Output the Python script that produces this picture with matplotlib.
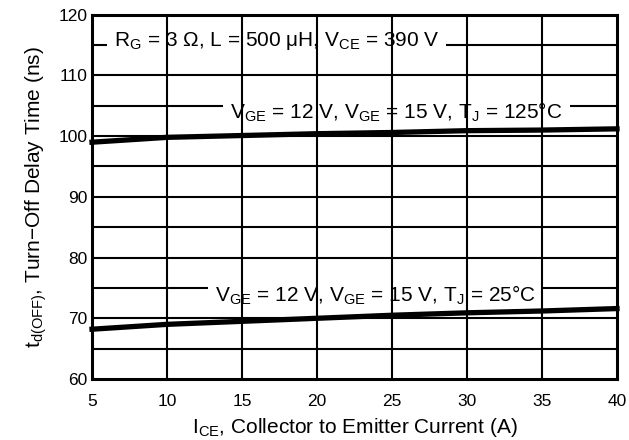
import matplotlib
matplotlib.use('Agg')
import matplotlib.pyplot as plt

plt.rcParams['font.family'] = ['Liberation Sans', 'DejaVu Sans']
plt.rcParams['mathtext.fontset'] = 'custom'
plt.rcParams['mathtext.rm'] = 'Liberation Sans'

# collector current (A)
ice = [5, 10, 15, 20, 25, 30, 35, 40]
# turn-off delay time (ns)
td_125 = [99.0, 99.8, 100.1, 100.4, 100.6, 100.9, 101.0, 101.2]
td_25 = [68.2, 69.0, 69.5, 70.0, 70.5, 70.9, 71.2, 71.6]

xticks = [5, 10, 15, 20, 25, 30, 35, 40]
yticks = [60, 70, 80, 90, 100, 110, 120]
ygrid = [65, 70, 75, 80, 85, 90, 95, 100, 105, 110, 115]
xgrid = [10, 15, 20, 25, 30, 35]

fig = plt.figure(figsize=(6.29, 4.40), dpi=100)
ax = fig.add_axes([92/629, 61/440, 525/629, 364.3/440])

for y in ygrid:
  ax.axhline(y, color='black', linewidth=1.5, zorder=1)
for x in xgrid:
  ax.axvline(x, color='black', linewidth=1.5, zorder=3)

box = dict(facecolor='white', edgecolor='none', pad=5)
fs = 15
ax.text(17.3, 114.9, r'R$_\mathregular{G}$ = 3 Ω, L = 500 μH, V$_\mathregular{CE}$ = 390 V',
        ha='center', va='baseline', fontsize=fs, bbox=box, zorder=2)
ax.text(25.3, 102.95, r'V$_\mathregular{GE}$ = 12 V, V$_\mathregular{GE}$ = 15 V, T$_\mathregular{J}$ = 125°C',
        ha='center', va='baseline', fontsize=fs, bbox=box, zorder=2)
ax.text(23.9, 72.8, r'V$_\mathregular{GE}$ = 12 V, V$_\mathregular{GE}$ = 15 V, T$_\mathregular{J}$ = 25°C',
        ha='center', va='baseline', fontsize=fs, bbox=box, zorder=2)

ax.plot(ice, td_125, color='black', linewidth=3.8, zorder=4, clip_on=False,
        solid_capstyle='projecting')
ax.plot(ice, td_25, color='black', linewidth=3.8, zorder=4, clip_on=False,
        solid_capstyle='projecting')

ax.set_xlim(5, 40)
ax.set_ylim(60, 120)
ax.set_xticks(xticks)
ax.set_yticks(yticks)
ax.tick_params(length=0, labelsize=12.5)
ax.tick_params(axis='x', pad=11)
ax.tick_params(axis='y', pad=3)
for s in ax.spines.values():
  s.set_linewidth(2.2)
  s.set_zorder(5)

ax.set_xlabel(r'I$_\mathregular{CE}$, Collector to Emitter Current (A)', fontsize=fs, labelpad=5)
ax.set_ylabel(r't$_\mathregular{d(OFF)}$, Turn−Off Delay Time (ns)', fontsize=fs, labelpad=7)

plt.savefig('out.png', dpi=100)
